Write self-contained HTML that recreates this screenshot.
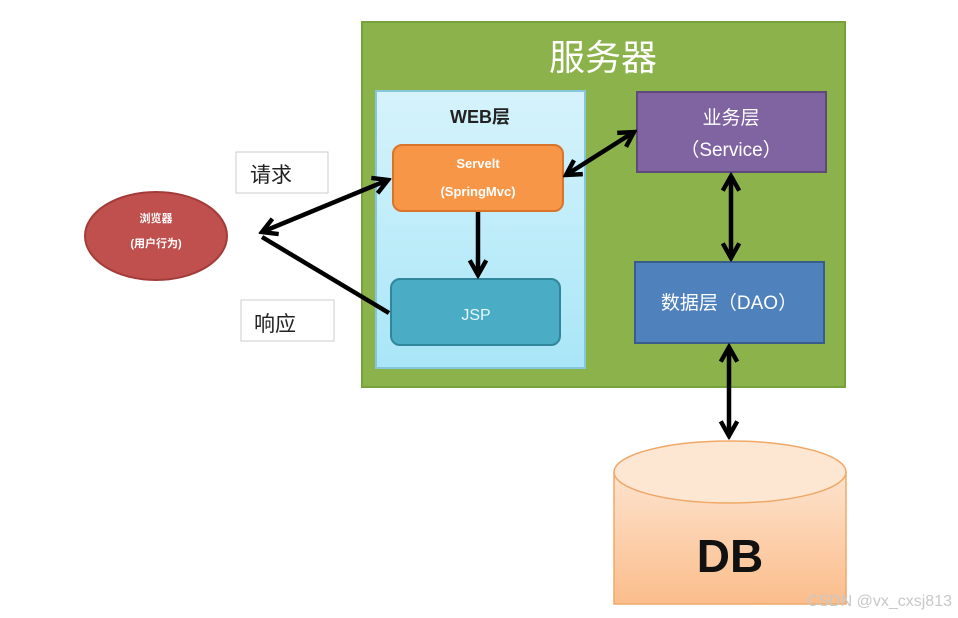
<!DOCTYPE html>
<html><head><meta charset="utf-8"><style>
body{margin:0;background:#fff;}
svg{display:block;font-family:"Liberation Sans","Noto Sans CJK SC",sans-serif;}
</style></head><body>
<svg width="958" height="618" viewBox="0 0 958 618" xmlns="http://www.w3.org/2000/svg">
<defs>
<linearGradient id="db" x1="0" y1="0" x2="0" y2="1"><stop offset="0" stop-color="#fde3cd"/><stop offset="1" stop-color="#fbbd8c"/></linearGradient>
<linearGradient id="web" x1="0" y1="0" x2="0" y2="1"><stop offset="0" stop-color="#d6f3fb"/><stop offset="1" stop-color="#a9e6f8"/></linearGradient>
<marker id="a" viewBox="0 0 12 12" refX="10" refY="6" markerWidth="22" markerHeight="22" orient="auto-start-reverse" markerUnits="userSpaceOnUse">
<path d="M2,1.5 L10,6 L2,10.5" fill="none" stroke="#000" stroke-width="2.4"/></marker>
</defs>
<rect x="362" y="22" width="483" height="365" fill="#8cb24b" stroke="#77a13a" stroke-width="2"/>
<text x="603" y="70" font-size="36" fill="#fff" text-anchor="middle">服务器</text>
<rect x="376" y="91" width="209" height="277" fill="url(#web)" stroke="#86c6dc" stroke-width="2"/>
<text x="480" y="123" font-size="18" font-weight="bold" fill="#222" text-anchor="middle">WEB层</text>
<rect x="393" y="145" width="170" height="66" rx="9" fill="#f79646" stroke="#d9752b" stroke-width="2"/>
<text x="478" y="168" font-size="13" font-weight="bold" fill="#fff" text-anchor="middle">Servelt</text>
<text x="478" y="196" font-size="13" font-weight="bold" fill="#fff" text-anchor="middle">(SpringMvc)</text>
<rect x="391" y="279" width="169" height="66" rx="9" fill="#4bacc6" stroke="#31869b" stroke-width="2"/>
<text x="476" y="320" font-size="16" fill="#e8f6fa" text-anchor="middle">JSP</text>
<rect x="637" y="92" width="189" height="80" fill="#8064a2" stroke="#5f497a" stroke-width="2"/>
<text x="731" y="124" font-size="19" fill="#fff" text-anchor="middle">业务层</text>
<text x="731" y="156" font-size="19" fill="#fff" text-anchor="middle">（Service）</text>
<rect x="635" y="262" width="189" height="81" fill="#4f81bd" stroke="#385d8a" stroke-width="2"/>
<text x="729" y="309" font-size="19" fill="#fff" text-anchor="middle">数据层（DAO）</text>
<ellipse cx="156" cy="236" rx="71" ry="44" fill="#c0504d" stroke="#a33c39" stroke-width="2"/>
<text x="156" y="222" font-size="11" font-weight="bold" fill="#fff" text-anchor="middle">浏览器</text>
<text x="156" y="247" font-size="11" font-weight="bold" fill="#fff" text-anchor="middle">(用户行为)</text>
<rect x="236" y="152" width="92" height="41" fill="#fff" stroke="#ccc"/>
<text x="250" y="182" font-size="21" fill="#222">请求</text>
<rect x="241" y="300" width="93" height="41" fill="#fff" stroke="#ccc"/>
<text x="254" y="331" font-size="21" fill="#222">响应</text>
<path d="M614,472 L614,604 L846,604 L846,472" fill="url(#db)" stroke="#f0a868" stroke-width="1.5"/>
<ellipse cx="730" cy="472" rx="116" ry="31" fill="#fde6d2" stroke="#f0a868" stroke-width="1.5"/>
<text x="730" y="572" font-size="46" font-weight="bold" fill="#111" text-anchor="middle">DB</text>
<g stroke="#000" stroke-width="4.5" fill="none">
<line x1="262" y1="232" x2="388" y2="180" marker-end="url(#a)" marker-start="url(#a)"/>
<line x1="389" y1="313" x2="262" y2="237"/>
<line x1="566" y1="175" x2="634" y2="132" marker-end="url(#a)" marker-start="url(#a)"/>
<line x1="478" y1="212" x2="478" y2="275" marker-end="url(#a)"/>
<line x1="731" y1="176" x2="731" y2="258" marker-end="url(#a)" marker-start="url(#a)"/>
<line x1="729" y1="347" x2="729" y2="436" marker-end="url(#a)" marker-start="url(#a)"/>
</g>
<text x="952" y="606" font-size="16" fill="#c8c8c8" text-anchor="end">CSDN @vx_cxsj813</text>
</svg>
</body></html>
